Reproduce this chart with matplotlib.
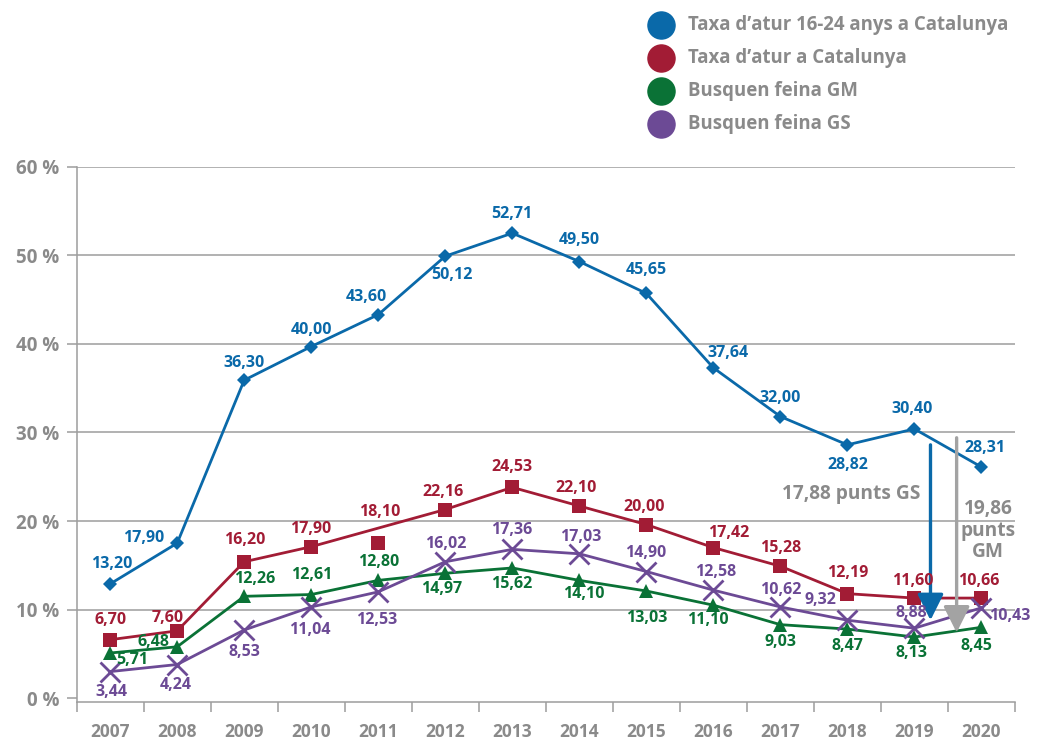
import matplotlib
matplotlib.use("Agg")
import matplotlib.pyplot as plt
from matplotlib.lines import Line2D
import numpy as np

plt.rcParams["font.family"] = ["Open Sans", "DejaVu Sans"]

# ── Data ──
years = ["2007", "2008", "2009", "2010", "2011", "2012", "2013",
         "2014", "2015", "2016", "2017", "2018", "2019", "2020"]

# plotted positions (%)
youth_vals = [12.9, 17.5, 35.9, 39.7, 43.3, 49.9, 52.5, 49.3, 45.7, 37.3, 31.8, 28.6, 30.4, 26.1]
total_vals = [6.6, 7.6, 15.4, 17.1, 17.5, 21.3, 23.8, 21.7, 19.6, 17.0, 14.9, 11.8, 11.3, 11.3]
gm_vals = [5.1, 5.8, 11.5, 11.7, 13.3, 14.1, 14.7, 13.3, 12.1, 10.5, 8.3, 7.8, 6.9, 8.0]
gs_vals = [3.0, 3.8, 7.7, 10.3, 12.0, 15.4, 16.8, 16.3, 14.3, 12.2, 10.3, 8.8, 7.9, 10.2]

# printed data labels
youth_lbl = ["13,20", "17,90", "36,30", "40,00", "43,60", "50,12", "52,71",
             "49,50", "45,65", "37,64", "32,00", "28,82", "30,40", "28,31"]
total_lbl = ["6,70", "7,60", "16,20", "17,90", "18,10", "22,16", "24,53",
             "22,10", "20,00", "17,42", "15,28", "12,19", "11,60", "10,66"]
gm_lbl = ["5,71", "6,48", "12,26", "12,61", "12,80", "14,97", "15,62",
          "14,10", "13,03", "11,10", "9,03", "8,47", "8,13", "8,45"]
gs_lbl = ["3,44", "4,24", "8,53", "11,04", "12,53", "16,02", "17,36",
          "17,03", "14,90", "12,58", "10,62", "9,32", "8,88", "10,43"]

series_names = ["Taxa d\u2019atur 16-24 anys a Catalunya", "Taxa d\u2019atur a Catalunya",
                "Busquen feina GM", "Busquen feina GS"]

# red marker that sits off the line in the original
total_off_line = "2011"

# gap annotations
gs_gap_text = "17,88 punts GS"
gm_gap_text = "19,86\npunts\nGM"

# ── Style ──
BLUE = "#0a69a9"
RED = "#a21c35"
GREEN = "#0a7236"
PURPLE = "#6c4a95"
GRAY_TXT = "#8a8a8a"
GRID = "#9d9d9d"
ARROW_GRAY = "#a3a3a3"
PX = 0.72  # pixel -> point at 100 dpi

# label offsets in pixels (dx, dy down)
youth_off = [(2, -20), (-34, -5), (0, -17), (0, -17), (-12, -18), (7, 19), (0, -19),
             (0, -22), (0, -23), (15, -15), (0, -19), (0, 20), (-2, -20), (4, -19)]
total_off = [(0, -20), (-9, -13), (1, -22), (-1, -18), (1, -31), (-2, -18), (0, -20),
             (-3, -18), (-2, -18), (15, -15), (0, -18), (0, -21), (-2, -17), (-3, -17)]
gm_off = [(22, 7), (-24, -5), (10, -17), (0, -20), (0, -18), (-4, 16), (-1, 16),
          (4, 14), (0, 27), (-5, 15), (0, 17), (0, 17), (-3, 16), (-5, 19)]
gs_off = [(1, 20), (-1, 20), (0, 22), (-1, 23), (-2, 28), (0, -18), (-1, -19),
          (1, -17), (-1, -19), (2, -18), (0, -17), (-27, -20), (-3, -15), (28, 8)]

fig = plt.figure(figsize=(10.4, 7.42), dpi=100, facecolor="white")
ax = fig.add_axes([0.0737, 0.0543, 0.9022, 0.7210])

x = np.arange(len(years))
ax.set_xlim(-0.5, len(years) - 0.5)
ax.set_ylim(-0.4, 60)

# grid
for v in range(10, 61, 10):
    ax.axhline(v, color=GRID, lw=1.1, zorder=1)

for s in ["top", "right"]:
    ax.spines[s].set_visible(False)
for s in ["left", "bottom"]:
    ax.spines[s].set_color(GRID)
    ax.spines[s].set_linewidth(1.1)

ax.set_yticks(range(0, 61, 10))
ax.set_yticklabels([f"{v} %" for v in range(0, 61, 10)])
ax.tick_params(axis="y", direction="out", length=7.2, width=1.1, color=GRID,
               labelcolor=GRAY_TXT, labelsize=13.5, pad=5)
for t in ax.get_yticklabels():
    t.set_fontweight("bold")

ax.set_xticks(np.arange(-0.5, len(years), 1.0))
ax.set_xticklabels([])
ax.tick_params(axis="x", which="major", direction="out", length=7.2, width=1.1, color=GRID)
ax.set_xticks(x, minor=True)
ax.set_xticklabels(years, minor=True)
ax.tick_params(axis="x", which="minor", length=0, labelcolor=GRAY_TXT, labelsize=12.5, pad=15)
for t in ax.get_xticklabels(minor=True):
    t.set_fontweight("bold")


def draw_series(vals, labels, offs, color, marker, ms, mew=0, line_mask=None):
    vals = np.array(vals)
    if line_mask is None:
        line_mask = np.ones(len(vals), dtype=bool)
    ax.plot(x[line_mask], vals[line_mask], color=color, lw=2, zorder=3)
    ax.plot(x, vals, linestyle="", marker=marker, ms=ms, color=color,
            mew=mew, mec=color, zorder=4)
    for xi, yi, lab, (dx, dy) in zip(x, vals, labels, offs):
        ax.annotate(lab, (xi, yi), xytext=(dx * PX, -dy * PX), textcoords="offset points",
                    ha="center", va="center", fontsize=11.5, fontweight="bold",
                    color=color, zorder=6, annotation_clip=False)


total_mask = np.array([y != total_off_line for y in years])
draw_series(youth_vals, youth_lbl, youth_off, BLUE, "D", 7.5)
draw_series(total_vals, total_lbl, total_off, RED, "s", 10.5, line_mask=total_mask)
draw_series(gm_vals, gm_lbl, gm_off, GREEN, "^", 9.5)
draw_series(gs_vals, gs_lbl, gs_off, PURPLE, "x", 14, mew=2)

# gap arrows
ax.annotate("", xy=(12.24, 8.8), xytext=(12.24, 28.6),
            arrowprops=dict(arrowstyle="-|>,head_length=1.6,head_width=0.8",
                            color=BLUE, lw=2.4, shrinkA=0, shrinkB=0), zorder=5)
ax.annotate("", xy=(12.63, 7.4), xytext=(12.63, 29.4),
            arrowprops=dict(arrowstyle="-|>,head_length=1.6,head_width=0.8",
                            color=ARROW_GRAY, lw=2.4, shrinkA=0, shrinkB=0), zorder=5)
ax.text(12.09, 23.1, gs_gap_text, ha="right", va="center", fontsize=13.8,
        fontweight="bold", color=GRAY_TXT, zorder=6)
ax.text(13.1, 18.9, gm_gap_text, ha="center", va="center", fontsize=13.8,
        fontweight="bold", color=GRAY_TXT, linespacing=1.1, zorder=6)

# legend (manual, top right)
colors = [BLUE, RED, GREEN, PURPLE]
for i, (name, c) in enumerate(zip(series_names, colors)):
    yf = 1 - (25 + i * 33) / 742
    fig.add_artist(Line2D([660.7 / 1040], [yf], marker="o", ms=19.5, color=c,
                          linestyle="", transform=fig.transFigure))
    fig.text(687.7 / 1040, yf, name, ha="left", va="center", fontsize=13.4,
             fontweight="bold", color=GRAY_TXT)

fig.savefig("out.png", dpi=100, facecolor="white")
